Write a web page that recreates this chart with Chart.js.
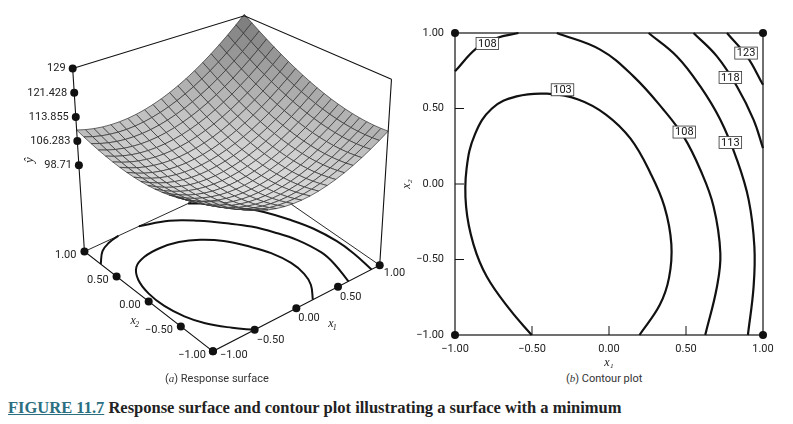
<!DOCTYPE html>
<html><head><meta charset="utf-8">
<script src="https://cdn.jsdelivr.net/npm/chart.js@4.4.1/dist/chart.umd.min.js"></script>
<style>
body{margin:0;background:#fff;width:793px;height:424px;position:relative;overflow:hidden;font-family:Roboto,"Noto Sans",sans-serif}
#c1{position:absolute;left:0;top:0}
#c2{position:absolute;left:400px;top:0}
.cap{position:absolute;top:372px;font-size:11px;color:#333}
#title{position:absolute;left:8px;top:398px;font-family:"Liberation Serif","DejaVu Serif",serif;font-weight:bold;font-size:16.5px;color:#222;white-space:nowrap}
#title u{color:#2b6f80}
</style></head><body>
<canvas id="c2" width="393" height="370"></canvas>
<canvas id="c1" width="420" height="370"></canvas>
<div class="cap" style="left:165px">(<i style="font-family:'Liberation Serif',serif">a</i>) Response surface</div>
<div class="cap" style="left:566px">(<i style="font-family:'Liberation Serif',serif">b</i>) Contour plot</div>
<div id="title"><u>FIGURE 11.7</u> Response surface and contour plot illustrating a surface with a minimum</div>
<script>
// ---- data ----
const axisTicks = [-1, -0.5, 0, 0.5, 1];
const zTicks = [98.71, 106.283, 113.855, 121.428, 129];
// fitted response surface: [b0, c1, c2, a11, a22, a12]
const modelCoef = [98.7, -0.25, -0.3, 9.6, 5.6, 3.9];
const contour103 = [[-0.502,-1],[-0.642,-0.834],[-0.794,-0.613],[-0.880,-0.40],[-0.928,-0.15],[-0.925,0.10],[-0.87,0.33],[-0.76,0.50],[-0.60,0.58],[-0.404,0.598],[-0.20,0.56],[-0.02,0.46],[0.14,0.30],[0.27,0.07],[0.36,-0.15],[0.405,-0.40],[0.39,-0.62],[0.33,-0.80],[0.198,-1]];
const contour108a = [[-1,0.746],[-0.859,0.9],[-0.729,0.967],[-0.588,1]];
const contour108b = [[-0.339,1],[-0.057,0.89],[0.159,0.713],[0.354,0.492],[0.484,0.315],[0.593,0.094],[0.679,-0.149],[0.723,-0.459],[0.701,-0.68],[0.625,-1]];
const contour113 = [[0.257,1],[0.441,0.845],[0.593,0.646],[0.723,0.425],[0.831,0.16],[0.907,-0.105],[0.944,-0.414],[0.939,-0.68],[0.902,-1]];
const contour118 = [[0.549,1],[0.701,0.845],[0.831,0.646],[0.939,0.425],[1,0.238]];
const contour123 = [[0.766,1],[0.896,0.845],[1,0.657]];
const contourLabels = [["108",-0.79,0.93],["103",-0.302,0.624],["108",0.489,0.344],["113",0.788,0.275],["118",0.788,0.706],["123",0.89,0.867]];

// ---- 3D projection (box geometry) ----
const floorC = {mm:[213,355], pm:[383,267], mp:[82,253], pp:[250,175]};
const topC   = {mm:[222,118], pm:[395,77],  mp:[70,66],  pp:[245,12]};
const zFloor = 71.7, zTop = 129;
function bil(C,x1,x2){const u=(x1+1)/2,v=(x2+1)/2;
  return [0,1].map(k=>(1-u)*(1-v)*C.mm[k]+u*(1-v)*C.pm[k]+(1-u)*v*C.mp[k]+u*v*C.pp[k]);}
function P(x1,x2,z){const f=bil(floorC,x1,x2),t=bil(topC,x1,x2),s=(z-zFloor)/(zTop-zFloor);
  return {x:f[0]+(t[0]-f[0])*s,y:f[1]+(t[1]-f[1])*s};}
function F(x1,x2){return P(x1,x2,zFloor);}
function surf(x1,x2){const [b0,c1,c2,a,b,c]=modelCoef;const u=x1-c1,v=x2-c2;return b0+a*u*u+b*v*v+c*u*v;}
const GAP={x:NaN,y:NaN};
function poly(arr){return arr.map(p=>F(p[0],p[1]));}
const underData=[].concat([F(-1,1),F(1,1)],[GAP],[F(1,-1),F(1,1)]);
const overLines=[].concat([P(-1,1,zTop),P(1,1,zTop),P(1,-1,zTop)],[GAP],
  [P(-1,1,zTop),F(-1,1),F(-1,-1),F(1,-1),P(1,-1,zTop)]);
const dots=[].concat(zTicks.map(z=>P(-1,1,z)),axisTicks.map(t=>F(-1,t)),axisTicks.map(t=>F(t,-1)));

const N=20;
const surfacePlugin={id:'surf',afterDatasetDraw(chart,args){
  if(args.index!==0)return;
  const ctx=chart.ctx,xs=chart.scales.x,ys=chart.scales.y;
  const px=p=>[xs.getPixelForValue(p.x),ys.getPixelForValue(p.y)];
  const quads=[];
  for(let i=0;i<N;i++)for(let j=0;j<N;j++){
    const a=-1+2*i/N,b=-1+2*(i+1)/N,c=-1+2*j/N,d=-1+2*(j+1)/N;
    quads.push({k:a+c,pts:[[a,c],[b,c],[b,d],[a,d]]});}
  quads.sort((p,q)=>q.k-p.k);
  ctx.save();ctx.lineWidth=0.7;ctx.strokeStyle='#303030';
  for(const q of quads){
    let zs=0;ctx.beginPath();
    q.pts.forEach((p,n)=>{const z=surf(p[0],p[1]);zs+=z;const s=px(P(p[0],p[1],z));n?ctx.lineTo(s[0],s[1]):ctx.moveTo(s[0],s[1]);});
    ctx.closePath();
    const t=Math.min(1,Math.max(0,(zs/4-98.7)/(129-98.7)));
    const g=Math.round(222-t*100);
    ctx.fillStyle=`rgb(${g},${g},${g})`;ctx.fill();ctx.stroke();}
  ctx.restore();}};
const textPlugin={id:'txt',afterDraw(chart){
  const ctx=chart.ctx,xs=chart.scales.x,ys=chart.scales.y;
  const put=(s,p,dx,dy,al)=>{ctx.textAlign=al;ctx.fillText(s,xs.getPixelForValue(p.x)+dx,ys.getPixelForValue(p.y)+dy);};
  ctx.save();ctx.fillStyle='#222';ctx.font='11px Roboto, sans-serif';ctx.textBaseline='middle';
  const fmt=v=>(v<0?'\u2212':'')+Math.abs(v).toFixed(2);
  zTicks.forEach(z=>put(String(z),P(-1,1,z),-7,0,'right'));
  axisTicks.forEach(t=>{ if(t===-1)return; put(fmt(t),F(-1,t),-8,4,'right');});
  put(fmt(-1),F(-1,-1),-7,4,'right');
  axisTicks.forEach(t=>{ if(t===-1)put(fmt(t),F(t,-1),7,4,'left'); else if(t===1)put(fmt(t),F(t,-1),4,8,'left'); else put(fmt(t),F(t,-1),2,10,'left');});
  ctx.font='italic 12px "Liberation Serif", serif';
  put('x',F(-1,-0.1),-22,14,'center');ctx.font='italic 8px "Liberation Serif", serif';put('2',F(-1,-0.1),-18,18,'center');
  ctx.font='italic 12px "Liberation Serif", serif';put('x',F(0.15,-1),22,22,'center');ctx.font='italic 8px "Liberation Serif", serif';put('1',F(0.15,-1),26,26,'center');
  ctx.translate(30,160);ctx.rotate(-Math.PI/2);ctx.font='italic 13px "Liberation Serif", serif';ctx.textAlign='center';ctx.fillText('y\u0302',0,0);
  ctx.restore();}};

const floorSet=c=>({data:poly(c),borderColor:'#111',borderWidth:2,pointRadius:0,tension:0.4,order:11});
new Chart(document.getElementById('c1'),{type:'line',
  data:{datasets:[
    {data:underData,borderColor:'#111',borderWidth:0.9,pointRadius:0,tension:0,order:10,spanGaps:false},
    floorSet(contour103),floorSet(contour108a),floorSet(contour108b),floorSet(contour113),
    {data:overLines,borderColor:'#111',borderWidth:1.1,pointRadius:0,tension:0,order:2,spanGaps:false},
    {data:dots,showLine:false,pointRadius:4,pointBackgroundColor:'#111',pointBorderWidth:0,order:1}]},
  options:{responsive:false,animation:false,events:[],layout:{padding:0},
    elements:{line:{capBezierPoints:false}},
    plugins:{legend:{display:false},tooltip:{enabled:false}},
    scales:{x:{type:'linear',min:0,max:420,display:false},y:{type:'linear',min:0,max:370,reverse:true,display:false}}},
  plugins:[surfacePlugin,textPlugin]});
</script>
<script>
const toPts=a=>a.map(p=>({x:p[0],y:p[1]}));
const cds=[contour103,contour108a,contour108b,contour113,contour118,contour123].map(c=>({data:toPts(c),showLine:true,borderColor:'#111',borderWidth:2.2,pointRadius:0,tension:0.4,clip:false}));
cds.push({data:toPts([[-1,-1],[1,-1],[-1,1],[1,1]]),showLine:false,pointRadius:4,pointBackgroundColor:'#111',pointBorderWidth:0,clip:false});
const fmt2=v=>(v<0?'\u2212':'')+Math.abs(v).toFixed(2);
const framePlugin={id:'frame',afterDatasetsDraw(chart){
  const ctx=chart.ctx,a=chart.chartArea,xs=chart.scales.x,ys=chart.scales.y;
  ctx.save();ctx.strokeStyle='#111';ctx.lineWidth=1.2;ctx.strokeRect(a.left,a.top,a.right-a.left,a.bottom-a.top);
  ctx.lineWidth=1;
  axisTicks.slice(1,4).forEach(t=>{const x=xs.getPixelForValue(t);ctx.beginPath();ctx.moveTo(x,a.bottom);ctx.lineTo(x,a.bottom-9);ctx.stroke();
    const y=ys.getPixelForValue(t);ctx.beginPath();ctx.moveTo(a.left,y);ctx.lineTo(a.left+9,y);ctx.stroke();});
  ctx.font='11px Roboto, sans-serif';ctx.textAlign='center';ctx.textBaseline='middle';
  contourLabels.forEach(([s,x,y])=>{const px=xs.getPixelForValue(x),py=ys.getPixelForValue(y);
    const w=ctx.measureText(s).width+4;ctx.fillStyle='#fff';ctx.fillRect(px-w/2,py-6,w,12);ctx.strokeStyle='#333';ctx.lineWidth=0.8;ctx.strokeRect(px-w/2,py-6,w,12);ctx.fillStyle='#111';ctx.fillText(s,px,py+0.5);});
  ctx.restore();}};
new Chart(document.getElementById('c2'),{type:'scatter',data:{datasets:cds},
  options:{responsive:false,animation:false,events:[],layout:{padding:{top:33,right:30,left:0,bottom:0}},
    elements:{line:{capBezierPoints:false}},
    plugins:{legend:{display:false},tooltip:{enabled:false}},
    scales:{
      x:{min:-1,max:1,afterBuildTicks:s=>{s.ticks=axisTicks.map(v=>({value:v}));},afterFit:s=>{s.height=35;},
        grid:{display:false},border:{display:false},
        ticks:{callback:v=>fmt2(v),color:'#222',font:{size:11,family:'Roboto'},padding:0,maxRotation:0},
        title:{display:true,text:'x\u2081',font:{size:12,style:'italic',family:'Liberation Serif'},color:'#222',padding:0}},
      y:{min:-1,max:1,afterBuildTicks:s=>{s.ticks=axisTicks.map(v=>({value:v}));},afterFit:s=>{s.width=55;},
        grid:{display:false},border:{display:false},
        ticks:{callback:v=>fmt2(v),color:'#222',font:{size:11,family:'Roboto'},padding:3},
        title:{display:true,text:'x\u2082',font:{size:12,style:'italic',family:'Liberation Serif'},color:'#222',padding:0}}}},
  plugins:[framePlugin]});
</script>
</body></html>
